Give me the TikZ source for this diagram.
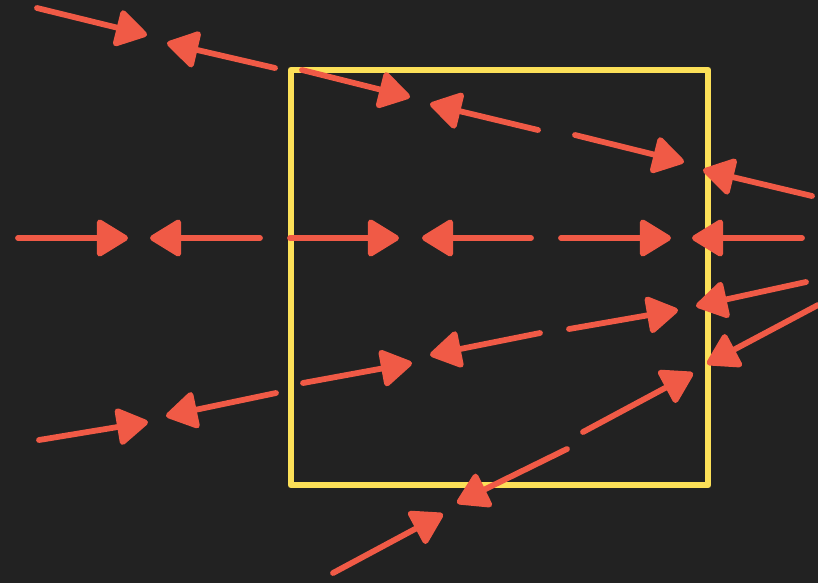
\documentclass[tikz,border=0pt]{standalone}
\usepackage{tikz}
\usetikzlibrary{arrows.meta}
\definecolor{board}{RGB}{34,34,34}
\definecolor{chalkred}{RGB}{240,90,70}
\definecolor{chalkyellow}{RGB}{252,224,88}

\begin{document}
\begin{tikzpicture}[x=0.02cm,y=-0.02cm,
  ray/.style={draw=chalkred,line width=3.3pt,line cap=round,
    -{Triangle[length=0.68cm,width=0.8cm,round]}},
  frame/.style={draw=chalkyellow,line width=3.8pt,line join=round}]

% --- board ---
\fill[board] (0,0) rectangle (818,583);
\useasboundingbox (0,0) rectangle (818,583);

% --- the box ---
\draw[frame] (291,70) rectangle (708,485);

% --- rays (start / tip) ---
\foreach \i/\xa/\ya/\xb/\yb in {
  1/37/8/147/35,     2/275/68/167/43,
  3/302/70/410/97,   4/538/130/430/104,
  5/575/135/684/162, 6/812/196/703/170,
  7/18/238/128/238,  8/260/238/150/238,
  9/290/238/399/238, 10/531/238/422/238,
  11/561/238/671/238, 12/802/238/692/238,
  13/39/440/148/422, 14/276/393/166/416,
  15/303/383/412/363, 16/540/333/430/355,
  17/569/329/678/310, 18/806/282/696/306,
  19/333/573/443/514, 20/567/449/457/503,
  21/583/432/693/373, 22/818/305/707/364}
{
  \coordinate (s\i) at (\xa,\ya);
  \coordinate (t\i) at (\xb,\yb);
  \draw[ray] (s\i) -- (t\i);
}

\end{tikzpicture}
\end{document}
